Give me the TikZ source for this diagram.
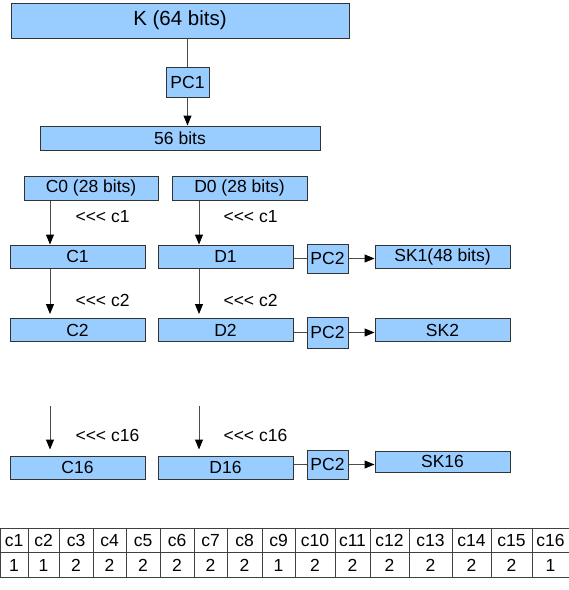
\documentclass[tikz,border=0pt]{standalone}
\usepackage{fontspec}
\setmainfont{Liberation Sans}[Ligatures=TeXOff]
\usetikzlibrary{arrows.meta}
\definecolor{boxblue}{HTML}{99CCFF}

\begin{document}
\begin{tikzpicture}
  [x=1pt,y=-1pt,
   every node/.style={font=\fontsize{17.5}{20}\selectfont},
   >={Triangle[length=10pt,width=8pt,color=black]}]

  \tikzstyle{box}  = [draw=black!80,fill=boxblue,line width=1pt,inner sep=0pt,
                      minimum width=135pt,minimum height=23pt]
  \tikzstyle{pc}   = [box,minimum width=41pt,minimum height=29pt]
  \tikzstyle{cell} = [draw=black!75,line width=0.8pt,inner sep=0pt,minimum height=24.5pt]
  \tikzstyle{wire} = [draw=black!70,line width=1pt]

  \useasboundingbox (0,0) rectangle (569,590);

  % key and first permutation
  \node[box,minimum width=338pt,minimum height=35pt,
        font=\fontsize{20.5}{24}\selectfont] (K) at (180,20.5) {K (64 bits)};
  \node[box,minimum width=43pt,minimum height=30pt] (PC1) at (187.5,82) {PC1};
  \node[box,minimum width=280pt,minimum height=24pt] (56) at (180,138) {56 bits};

  % the two halves
  \node[box,minimum width=134pt,minimum height=24pt] (C0) at (91,188)    {C0 (28 bits)};
  \node[box,minimum height=24pt]                     (D0) at (239.5,188) {D0 (28 bits)};

  \node[box] (C1)  at (77.5,256.5)  {C1};
  \node[box] (D1)  at (225.5,256.5) {D1};
  \node[box] (C2)  at (77.5,330)    {C2};
  \node[box] (D2)  at (225.5,330)   {D2};
  \node[box] (C16) at (77.5,467.5)  {C16};
  \node[box] (D16) at (225.5,467.5) {D16};

  % second permutation and subkeys
  \node[pc] (P1)  at (327.5,258.5) {PC2};
  \node[pc,minimum height=31pt] (P2) at (327.5,332.5) {PC2};
  \node[pc] (P16) at (327.5,464.5) {PC2};

  \node[box] (SK1)  at (442.5,256.5) {SK1(48 bits)};
  \node[box] (SK2)  at (442.5,330)   {SK2};
  \node[box,minimum height=21pt] (SK16) at (442.5,461.5) {SK16};

  \coordinate (cx) at (50,0);
  \coordinate (dx) at (199,0);
  \coordinate (cgap) at (50,406);
  \coordinate (dgap) at (199,406);

  \draw[wire] (K.south -| PC1) -- (PC1.north);
  \draw[wire,->] (PC1.south) -- (PC1.south |- 56.north);

  \path[->]
        (C0.south -| cx) edge [wire]                  (C1.north -| cx)
        (D0.south -| dx) edge [wire]                  (D1.north -| dx)
        (C1.south -| cx) edge [wire,shorten >=4pt]    (C2.north -| cx)
        (D1.south -| dx) edge [wire,shorten >=4pt]    (D2.north -| dx)
        (cgap)           edge [wire,shorten >=6pt]    (C16.north -| cx)
        (dgap)           edge [wire,shorten >=6pt]    (D16.north -| dx);

  \node[anchor=west] (r1c)  at (72,217)  {<<< c1};
  \node[anchor=west] (r1d)  at (220,217) {<<< c1};
  \node[anchor=west] (r2c)  at (72,300)  {<<< c2};
  \node[anchor=west] (r2d)  at (220,300) {<<< c2};
  \node[anchor=west] (r16c) at (72,435)  {<<< c16};
  \node[anchor=west] (r16d) at (220,435) {<<< c16};

  \foreach \r in {1,2,16} {
    \draw[wire] (D\r.east |- P\r) -- (P\r.west);
    \draw[wire,->] (P\r.east) -- (P\r.east -| SK\r.west);
  }

  % shift table
  \foreach \l/\rr/\v [count=\i] in {0/28/1,28/59/1,59/93/2,93/126/2,126/160/2,
      160/194/2,194/227/2,227/262/2,262/295/1,295/335/2,335/370/2,370/409/2,
      409/452/2,452/491/2,491/532/2,532/569/1} {
    \pgfmathsetmacro\w{\rr-\l}
    \node[cell,minimum width=\w pt] (h\i) at ({(\l+\rr)/2},540.5) {c\i};
    \node[cell,minimum width=\w pt] (v\i) at ({(\l+\rr)/2},565)   {\v};
  }
\end{tikzpicture}
\end{document}
